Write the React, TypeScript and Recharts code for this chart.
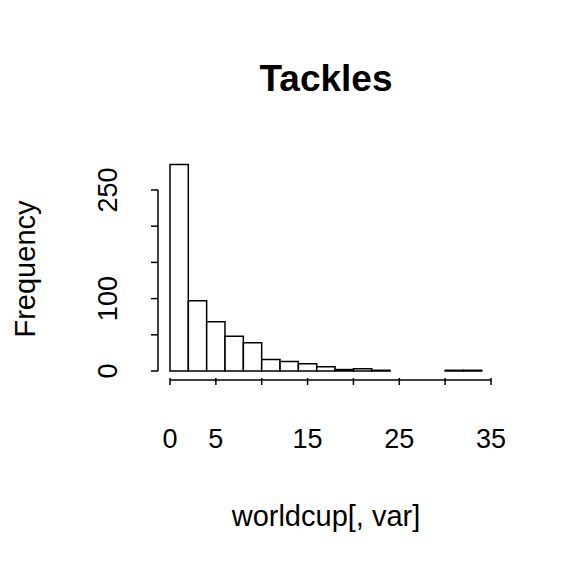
import React from "react";
import { ComposedChart, Bar, XAxis, YAxis, ReferenceLine } from "recharts";

const binMids = [1, 3, 5, 7, 9, 11, 13, 15, 17, 19, 21, 23, 25, 27, 29, 31, 33];
const counts = [285, 97, 68, 48, 39, 16, 13, 10, 6, 2, 3, 1, 0, 0, 0, 1, 1];
const xTicks = [0, 5, 10, 15, 20, 25, 30, 35];
const xLabels = ["0", "5", "", "15", "", "25", "", "35"];
const yTicks = [0, 50, 100, 150, 200, 250];
const yLabels = ["0", "", "100", "", "", "250"];

const data = binMids.map((m, i) => ({ mid: m, count: counts[i] }));
const font = "'Liberation Sans', Arial, sans-serif";

const XTick = (props: any) => {
  const { x, y, payload } = props;
  const i = xTicks.indexOf(payload.value);
  const ty = y - 10;
  return (
    <g>
      <line x1={x} x2={x} y1={ty} y2={ty + 7} stroke="#000" strokeWidth={1.5} />
      <text x={x} y={ty + 70} textAnchor="middle" fontSize={27} fontFamily={font} fill="#000">
        {xLabels[i]}
      </text>
    </g>
  );
};

const YTick = (props: any) => {
  const { x, y, payload } = props;
  const i = yTicks.indexOf(payload.value);
  const lx = 158;
  return (
    <g>
      <line x1={lx} x2={lx - 7} y1={y} y2={y} stroke="#000" strokeWidth={1.5} />
      <text
        x={108}
        y={y}
        textAnchor="middle"
        transform={`rotate(-90 108 ${y})`}
        dominantBaseline="central"
        fontSize={27}
        fontFamily={font}
        fill="#000"
      >
        {yLabels[i]}
      </text>
    </g>
  );
};

const App = () => {
  return (
    <div style={{ position: "absolute", left: 0, top: 0, width: 576, height: 576, background: "#fff" }}>
      <ComposedChart width={576} height={576} data={data} margin={{ top: 161, right: 85, bottom: 195, left: 169 }}>
        <XAxis
          dataKey="mid"
          type="number"
          domain={[0, 35]}
          ticks={xTicks}
          axisLine={false}
          tickLine={false}
          tick={<XTick />}
          height={1}
          interval={0}
        />
        <YAxis
          type="number"
          domain={[-12.4, 290]}
          ticks={yTicks}
          axisLine={false}
          tickLine={false}
          tick={<YTick />}
          width={1}
          interval={0}
        />
        <ReferenceLine
          segment={[{ x: 0, y: -12.4 }, { x: 35, y: -12.4 }]}
          stroke="#000"
          strokeWidth={1.5}
          ifOverflow="visible"
        />
        <ReferenceLine
          segment={[{ x: -1.31, y: 0 }, { x: -1.31, y: 250 }]}
          stroke="#000"
          strokeWidth={1.5}
          ifOverflow="visible"
        />
        <Bar dataKey="count" fill="#fff" stroke="#000" strokeWidth={1.5} barSize={18.3} isAnimationActive={false} />
      </ComposedChart>
      <div style={{ position: "absolute", left: 0, width: 652, top: 58, textAlign: "center", fontFamily: font, fontWeight: "bold", fontSize: 37 }}>
        Tackles
      </div>
      <div style={{ position: "absolute", left: 0, width: 652, top: 500, textAlign: "center", fontFamily: font, fontSize: 29 }}>
        worldcup[, var]
      </div>
      <div
        style={{
          position: "absolute",
          left: 25,
          top: 269,
          transform: "translate(-50%, -50%) rotate(-90deg)",
          fontFamily: font,
          fontSize: 29,
          whiteSpace: "nowrap",
        }}
      >
        Frequency
      </div>
    </div>
  );
};

export default App;
